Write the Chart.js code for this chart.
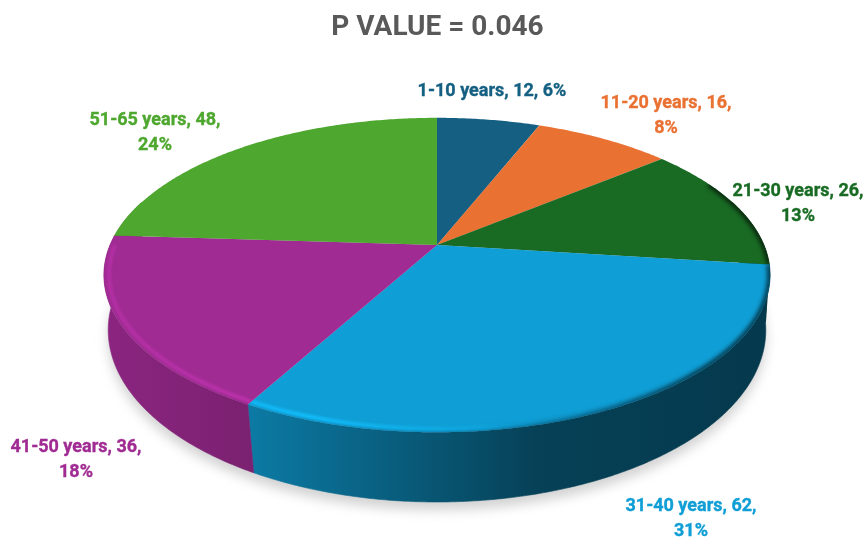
<!DOCTYPE html>
<html>
<head>
<meta charset="utf-8">
<style>
  html, body { margin: 0; padding: 0; background: #fff; }
</style>
<script src="https://cdn.jsdelivr.net/npm/chart.js@4"></script>
</head>
<body>
<canvas id="myChart" width="866" height="538"></canvas>
<script>
const titulo = 'P VALUE = 0.046'
const categorias = ['1-10 years', '11-20 years', '21-30 years', '31-40 years', '41-50 years', '51-65 years']
const casos = [12, 16, 26, 62, 36, 48]
const porcentajes = ['6%', '8%', '13%', '31%', '18%', '24%']
const colores = ['#156082', '#E97132', '#196B24', '#0F9ED5', '#A02B93', '#4EA72E']

// Perspective of the disc: the apex sits above the middle of the ellipse
const caraSup = { cx: 437, cy: 245, A: 327, B: 151.5, k: 0.191 }
const caraInf = { cx: 437, cy: 300.8, A: 324, B: 167, k: 0.17 }

// Where each label goes (centre x, first line middle y, one or two lines)
const sitiosEtiqueta = [
  { x: 492, y: 91, dosLineas: false },
  { x: 666, y: 103, dosLineas: true },
  { x: 798, y: 191, dosLineas: true },
  { x: 691, y: 506, dosLineas: true },
  { x: 76, y: 447, dosLineas: true },
  { x: 155, y: 120, dosLineas: true }
]

const proyectar = (angulo, r = 1, base = false) => {
  const v = base ? caraInf : caraSup
  const u = r * Math.cos(angulo)
  const s = r * Math.sin(angulo)
  const w = 1 - v.k * s
  return { x: v.cx + v.A * u / w, y: v.cy + v.B * s / w }
}

const sombra = (hex, f) => {
  const n = parseInt(hex.slice(1), 16)
  const c = [n >> 16, (n >> 8) & 255, n & 255].map(v => Math.min(255, Math.round(v * f)))
  return `rgb(${c[0]},${c[1]},${c[2]})`
}
const conAlfa = (hex, f, alfa) => sombra(hex, f).replace('rgb(', 'rgba(').replace(')', `,${alfa})`)

const trazarArco = (ctx, ini, fin, r, base, mover) => {
  const pasos = Math.max(2, Math.ceil(Math.abs(fin - ini) / 0.01))
  for (let i = 0; i <= pasos; i++) {
    const p = proyectar(ini + (fin - ini) * i / pasos, r, base)
    if (i === 0 && mover) ctx.moveTo(p.x, p.y)
    else ctx.lineTo(p.x, p.y)
  }
}

const pie3d = {
  id: 'pie3d',
  beforeDatasetDraw(chart, args) {
    const ctx = chart.ctx
    const arcos = chart.getDatasetMeta(args.index).data

    // Soft shadow under the disc
    ctx.save()
    ctx.filter = 'blur(6px)'
    ctx.fillStyle = '#d2d2d2'
    ctx.beginPath()
    for (let i = 0; i <= 360; i++) {
      const p = proyectar(i * Math.PI / 180, 1, true)
      ctx.lineTo(p.x, p.y + 8)
    }
    ctx.closePath()
    ctx.fill()
    ctx.restore()

    // Side wall, only the part that faces the viewer
    arcos.forEach((arco, i) => {
      const ini = Math.max(arco.startAngle, -0.3)
      const fin = Math.min(arco.endAngle, Math.PI + 0.3)
      if (fin <= ini) return
      const grad = ctx.createLinearGradient(104, 0, 770, 0)
      grad.addColorStop(0, sombra(colores[i], 0.87))
      grad.addColorStop(0.22, sombra(colores[i], 0.77))
      grad.addColorStop(0.65, sombra(colores[i], 0.41))
      grad.addColorStop(1, sombra(colores[i], 0.36))
      ctx.beginPath()
      trazarArco(ctx, ini, fin, 1, false, true)
      trazarArco(ctx, fin, ini, 1, true, false)
      ctx.closePath()
      ctx.fillStyle = grad
      ctx.fill()
      ctx.strokeStyle = grad
      ctx.lineWidth = 0.6
      ctx.stroke()
    })

    // Top face with the bevel on its rim
    arcos.forEach((arco, i) => {
      ctx.save()
      ctx.beginPath()
      ctx.moveTo(caraSup.cx, caraSup.cy)
      trazarArco(ctx, arco.startAngle, arco.endAngle, 1, false, false)
      ctx.closePath()
      ctx.fillStyle = colores[i]
      ctx.fill()
      ctx.clip()

      // The dark rim only shows on the right, from about the green slice down
      const iniOscuro = Math.max(arco.startAngle, -0.45)
      if (arco.endAngle > iniOscuro) {
        const oscuro = ctx.createLinearGradient(480, 0, 700, 0)
        oscuro.addColorStop(0, conAlfa(colores[i], 0.36, 0))
        oscuro.addColorStop(1, conAlfa(colores[i], 0.36, 1))
        ctx.filter = 'blur(2px)'
        ctx.beginPath()
        trazarArco(ctx, iniOscuro, arco.endAngle, 1, false, true)
        ctx.strokeStyle = oscuro
        ctx.lineWidth = 6
        ctx.stroke()
      }

      const ini = Math.max(arco.startAngle, 0.25)
      const fin = Math.min(arco.endAngle, Math.PI)
      if (fin > ini) {
        const brillo = ctx.createLinearGradient(104, 0, 520, 0)
        brillo.addColorStop(0, conAlfa(colores[i], 1.15, 0.9))
        brillo.addColorStop(0.5, conAlfa(colores[i], 1.22, 1))
        brillo.addColorStop(1, conAlfa(colores[i], 1.22, 0))
        ctx.filter = 'blur(1.5px)'
        ctx.beginPath()
        trazarArco(ctx, ini, fin, 0.985, false, true)
        ctx.strokeStyle = brillo
        ctx.lineWidth = 3.5
        ctx.stroke()

        // Falling edge between the ridge and the wall
        const caida = ctx.createLinearGradient(170, 0, 520, 0)
        caida.addColorStop(0, conAlfa(colores[i], 0.85, 0))
        caida.addColorStop(0.4, conAlfa(colores[i], 0.85, 0.8))
        caida.addColorStop(1, conAlfa(colores[i], 0.6, 0.8))
        ctx.filter = 'blur(1px)'
        ctx.beginPath()
        trazarArco(ctx, ini, fin, 1.004, false, true)
        ctx.strokeStyle = caida
        ctx.lineWidth = 3
        ctx.stroke()
      }
      ctx.restore()
    })
    return false
  },
  afterDatasetsDraw(chart) {
    const ctx = chart.ctx
    ctx.save()
    ctx.font = 'bold 18px Roboto, sans-serif'
    ctx.textAlign = 'center'
    ctx.textBaseline = 'middle'
    ctx.lineWidth = 0.35
    const escribir = (texto, x, y) => {
      ctx.fillText(texto, x, y)
      ctx.strokeText(texto, x, y)
    }
    categorias.forEach((cat, i) => {
      const sitio = sitiosEtiqueta[i]
      ctx.fillStyle = colores[i]
      ctx.strokeStyle = colores[i]
      if (sitio.dosLineas) {
        escribir(`${cat}, ${casos[i]},`, sitio.x, sitio.y)
        escribir(porcentajes[i], sitio.x, sitio.y + 25)
      } else {
        escribir(`${cat}, ${casos[i]}, ${porcentajes[i]}`, sitio.x, sitio.y)
      }
    })
    ctx.restore()
  }
}

const myChart = new Chart(document.querySelector('#myChart').getContext('2d'), {
  type: 'pie',
  data: {
    labels: categorias,
    datasets: [{
      data: casos,
      backgroundColor: colores,
      borderWidth: 0
    }]
  },
  options: {
    responsive: false,
    animation: false,
    layout: { padding: { left: 9 } },
    plugins: {
      legend: { display: false },
      tooltip: { enabled: false },
      title: {
        display: true,
        text: titulo,
        color: '#595959',
        font: { family: 'Roboto, sans-serif', size: 28, weight: 'bold' },
        padding: { top: 11, bottom: 10 }
      }
    }
  },
  plugins: [pie3d]
})
</script>
</body>
</html>
